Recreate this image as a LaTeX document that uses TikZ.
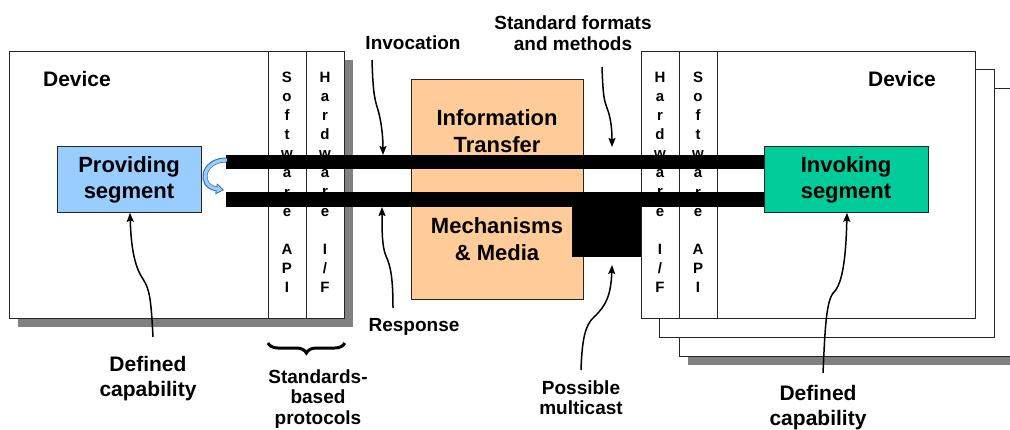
\documentclass[tikz,border=0pt]{standalone}
\usepackage{fontspec}
\setmainfont{Liberation Sans}
\usetikzlibrary{arrows.meta,decorations.pathreplacing,shadows}

\definecolor{provblue}{HTML}{99CCFF}
\definecolor{invgreen}{HTML}{00CC99}
\definecolor{peach}{HTML}{FFCC99}
\definecolor{shadowgray}{HTML}{808080}
\definecolor{uturnedge}{HTML}{3A6EA5}

\begin{document}
\begin{tikzpicture}[x=1pt,y=-1pt,
  frame/.style={draw=black!85, line width=0.8pt, fill=white, inner sep=0pt, anchor=north west},
  shadowed/.style={drop shadow={shadow xshift=9pt, shadow yshift=-9pt, fill=shadowgray, opacity=1}},
  colbox/.style={frame, minimum width=38, minimum height=267},
  segbox/.style={frame, minimum height=66, font=\fontsize{22}{26}\selectfont\bfseries, align=center},
  coltext/.style={font=\fontsize{15}{19.15}\selectfont\bfseries, align=center, inner sep=0pt, anchor=north},
  boxtext/.style={font=\fontsize{22}{26.5}\selectfont\bfseries, align=center, inner sep=0pt},
  devtext/.style={font=\fontsize{21}{25}\selectfont\bfseries, inner sep=0pt},
  lbl/.style={font=\fontsize{19}{21}\selectfont\bfseries, align=center, inner sep=0pt},
  caplbl/.style={font=\fontsize{21}{25}\selectfont\bfseries, align=center, inner sep=0pt},
  bar/.style={line width=14.5pt, black},
  cv/.style={line width=1.5pt, -{Stealth[length=9pt,width=7pt,inset=1.5pt]}}]

\useasboundingbox (0,0) rectangle (1010,429);
\clip (0,0) rectangle (1010,429);

% ---- left device with its two interface columns
\node[frame, shadowed, minimum width=335, minimum height=267] (devL) at (9,51) {};
\node[colbox] (swL) at (268,51) {};
\node[colbox] (hwL) at (306,51) {};
\node[devtext] (devLtxt) at (77,79) {Device};
\node[coltext] (swLtxt) at (287,71.5) {S\\o\\f\\t\\w\\a\\r\\e\\[19.15pt]A\\P\\I};
\node[coltext] (hwLtxt) at (325,71.5) {H\\a\\r\\d\\w\\a\\r\\e\\[19.15pt]I\\/\\F};
\node[segbox, fill=provblue, minimum width=144] (prov) at (57,146) {};
\node[boxtext] (provtxt) at (129,180) {Providing\\segment};

% ---- right device stack
\node[frame, shadowed, minimum width=345, minimum height=268] (devR3) at (679,88) {};
\node[frame, minimum width=335, minimum height=268] (devR2) at (659,69) {};
\node[frame, minimum width=334, minimum height=267] (devR) at (641,51) {};
\node[colbox] (hwR) at (641,51) {};
\node[colbox] (swR) at (679,51) {};
\node[devtext] (devRtxt) at (902,79) {Device};
\node[coltext] (hwRtxt) at (660,71.5) {H\\a\\r\\d\\w\\a\\r\\e\\[19.15pt]I\\/\\F};
\node[coltext] (swRtxt) at (698,71.5) {S\\o\\f\\t\\w\\a\\r\\e\\[19.15pt]A\\P\\I};
\node[segbox, fill=invgreen, minimum width=164] (inv) at (764,146) {};
\node[boxtext] (invtxt) at (846,180) {Invoking\\segment};

% ---- transfer medium
\node[frame, fill=peach, minimum width=172, minimum height=220] (mid) at (411,79) {};
\node[boxtext] (midtop) at (497,131) {Information\\Transfer};
\node[boxtext] (midbot) at (497,239) {Mechanisms\\\& Media};

% ---- invocation / response channels
\coordinate (topL) at (226,162);
\coordinate (botL) at (226,199.5);
\draw[bar] (topL) -- (inv.west |- topL);
\draw[bar] (botL) -- (inv.west |- botL);
\fill[black] (572,192) rectangle (hwR.west |- 0,257);

% ---- turn-around inside the providing segment
\draw[line width=5pt, draw=uturnedge,
      -{Triangle[length=8pt,width=11pt,fill=provblue,line width=0.8pt]}]
  (226,160) .. controls (202,160) and (198,186) .. (224,190);
\draw[line width=3.2pt, draw=provblue, shorten >=7pt]
  (227,160) .. controls (202,160) and (198,186) .. (224,190);

% ---- labels
\node[lbl] (invoc) at (413,43) {Invocation};
\node[lbl] (stdfmt) at (573,33) {Standard formats\\and methods};
\node[lbl] (resp) at (414,327) {Response};
\node[lbl, font=\fontsize{19}{20.5}\selectfont\bfseries] (proto) at (318,399) {Standards-\\based\\protocols};
\node[lbl, font=\fontsize{19}{20}\selectfont\bfseries] (mcast) at (581,398) {Possible\\multicast};
\node[caplbl] (capL) at (148,379) {Defined\\capability};
\node[caplbl] (capR) at (818,408) {Defined\\capability};

\draw[line width=3pt, decorate, decoration={brace, amplitude=10pt, mirror}]
  (swL.south west |- 0,343) -- (hwL.south east |- 0,343);

% ---- pointers
\coordinate (invocS) at (372,60);
\coordinate (respS) at (393,308);
\coordinate (stdS) at (602,67);
\coordinate (mcS) at (581,370);
\coordinate (capLS) at (153,337);
\coordinate (capRS) at (823,373);

\draw[cv] (invocS) .. controls (373,95) and (375,100) .. (378,110)
                   .. controls (381,120) and (383,135) .. (383,155);
\draw[cv] (respS) .. controls (393,275) and (390,265) .. (386,256)
                  .. controls (382,247) and (382,230) .. (382,207);
\draw[cv] (stdS) .. controls (603,95) and (604,100) .. (607,108)
                 .. controls (611,118) and (612,130) .. (612,147);
\draw[cv] (mcS) .. controls (582,340) and (585,325) .. (594,317)
                .. controls (606,306) and (611,295) .. (612,265);
\draw[cv] (capLS) .. controls (151,300) and (150,290) .. (143,279)
                  .. controls (134,266) and (131,245) .. (prov.south -| 130,0);
\draw[cv] (capRS) .. controls (825,330) and (826,300) .. (834,292)
                  .. controls (843,283) and (846,255) .. (inv.south -| 847,0);
\end{tikzpicture}
\end{document}
